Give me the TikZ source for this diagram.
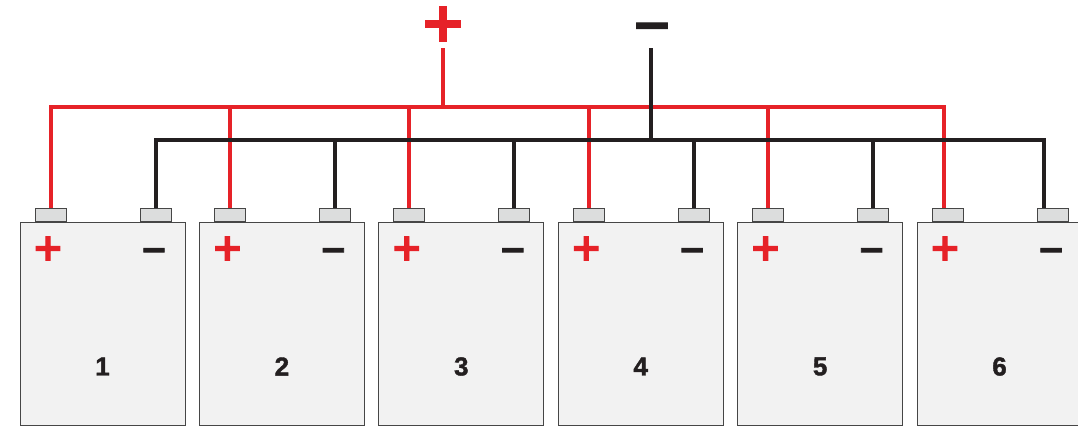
\documentclass[tikz,border=0pt]{standalone}
\usepackage{fontspec}
\setmainfont{Liberation Sans}[BoldFeatures={FakeBold=1.5}]
\newfontfamily\signfont{DejaVu Sans}[BoldFeatures={FakeBold=2.5}]
\usepackage{tikz}
\usetikzlibrary{positioning}

\definecolor{wirered}{RGB}{230,34,40}
\definecolor{wireblack}{RGB}{35,31,32}
\definecolor{caseborder}{RGB}{70,70,70}
\definecolor{casefill}{RGB}{242,242,242}
\definecolor{termfill}{RGB}{220,221,221}

\begin{document}
\begin{tikzpicture}[x=1pt, y=-1pt, node distance=179.4pt,
  cell/.style={draw=caseborder, fill=casefill, line width=1pt, minimum width=165pt, minimum height=203pt, inner sep=0pt},
  term/.style={draw=caseborder, fill=termfill, line width=1pt, minimum width=31pt, minimum height=13pt, inner sep=0pt, anchor=south},
  num/.style={font=\fontsize{26}{26}\selectfont\bfseries, text=wireblack},
  plussign/.style={font=\signfont\bfseries\fontsize{38}{38}\selectfont, text=wirered, inner sep=0pt},
  minussign/.style={font=\signfont\bfseries\fontsize{33}{33}\selectfont, text=wireblack, inner sep=0pt},
  bigplus/.style={font=\signfont\bfseries\fontsize{55}{55}\selectfont, text=wirered, inner sep=0pt},
  bigminus/.style={font=\signfont\bfseries\fontsize{49}{49}\selectfont, text=wireblack, inner sep=0pt},
  redwire/.style={draw=wirered, line width=4pt},
  blackwire/.style={draw=wireblack, line width=4pt}]

\useasboundingbox (0,0) rectangle (1078,426);
\clip (0,0) rectangle (1078,426);

% Define nodes
\node (b1) [cell] at (102.5,323.5) {};
\node (b2) [cell, right of=b1] {};
\node (b3) [cell, right of=b2] {};
\node (b4) [cell, right of=b3] {};
\node (b5) [cell, right of=b4] {};
\node (b6) [cell, right of=b5] {};

% Terminals
\node (p1) [term] at ([xshift=-52pt]b1.north) {};
\node (m1) [term] at ([xshift=53pt]b1.north) {};
\node (p2) [term] at ([xshift=-52pt]b2.north) {};
\node (m2) [term] at ([xshift=53pt]b2.north) {};
\node (p3) [term] at ([xshift=-52pt]b3.north) {};
\node (m3) [term] at ([xshift=53pt]b3.north) {};
\node (p4) [term] at ([xshift=-52pt]b4.north) {};
\node (m4) [term] at ([xshift=53pt]b4.north) {};
\node (p5) [term] at ([xshift=-52pt]b5.north) {};
\node (m5) [term] at ([xshift=53pt]b5.north) {};
\node (p6) [term] at ([xshift=-52pt]b6.north) {};
\node (m6) [term] at ([xshift=53pt]b6.north) {};

% Signs and numbers
\node (s1) [plussign] at ([xshift=-54.5pt, yshift=-27pt]b1.north) {+};
\node (t1) [minussign] at ([xshift=51.5pt, yshift=-33pt]b1.north) {−};
\node (n1) [num] at ([yshift=-43pt]b1.center) {1};
\node (s2) [plussign] at ([xshift=-54.5pt, yshift=-27pt]b2.north) {+};
\node (t2) [minussign] at ([xshift=51.5pt, yshift=-33pt]b2.north) {−};
\node (n2) [num] at ([yshift=-43pt]b2.center) {2};
\node (s3) [plussign] at ([xshift=-54.5pt, yshift=-27pt]b3.north) {+};
\node (t3) [minussign] at ([xshift=51.5pt, yshift=-33pt]b3.north) {−};
\node (n3) [num] at ([yshift=-43pt]b3.center) {3};
\node (s4) [plussign] at ([xshift=-54.5pt, yshift=-27pt]b4.north) {+};
\node (t4) [minussign] at ([xshift=51.5pt, yshift=-33pt]b4.north) {−};
\node (n4) [num] at ([yshift=-43pt]b4.center) {4};
\node (s5) [plussign] at ([xshift=-54.5pt, yshift=-27pt]b5.north) {+};
\node (t5) [minussign] at ([xshift=51.5pt, yshift=-33pt]b5.north) {−};
\node (n5) [num] at ([yshift=-43pt]b5.center) {5};
\node (s6) [plussign] at ([xshift=-54.5pt, yshift=-27pt]b6.north) {+};
\node (t6) [minussign] at ([xshift=51.5pt, yshift=-33pt]b6.north) {−};
\node (n6) [num] at ([yshift=-43pt]b6.center) {6};

% Main poles
\node (vplus) [bigplus] at (443,24) {+};
\node (vminus) [bigminus] at (652,32) {−};
\coordinate (rtop) at (443,48);
\coordinate (btop) at (651,48);
\coordinate (rbus) at (443,107);
\coordinate (bbus) at (651,140);

% Draw red wires
\draw[redwire] (rtop) -- (rbus);
\draw[redwire] (p1.north) |- (rbus) -| ([xshift=-4pt]p6.north);
\draw[redwire] (p2.north) -- (p2.north |- rbus);
\draw[redwire] (p3.north) -- (p3.north |- rbus);
\draw[redwire] (p4.north) -- (p4.north |- rbus);
\draw[redwire] (p5.north) -- (p5.north |- rbus);

% Draw black wires
\draw[blackwire] (btop) -- (bbus);
\draw[blackwire] (m1.north) |- (bbus) -| ([xshift=-9pt]m6.north);
\draw[blackwire] (m2.north) -- (m2.north |- bbus);
\draw[blackwire] (m3.north) -- (m3.north |- bbus);
\draw[blackwire] (m4.north) -- (m4.north |- bbus);
\draw[blackwire] (m5.north) -- (m5.north |- bbus);

\end{tikzpicture}
\end{document}
